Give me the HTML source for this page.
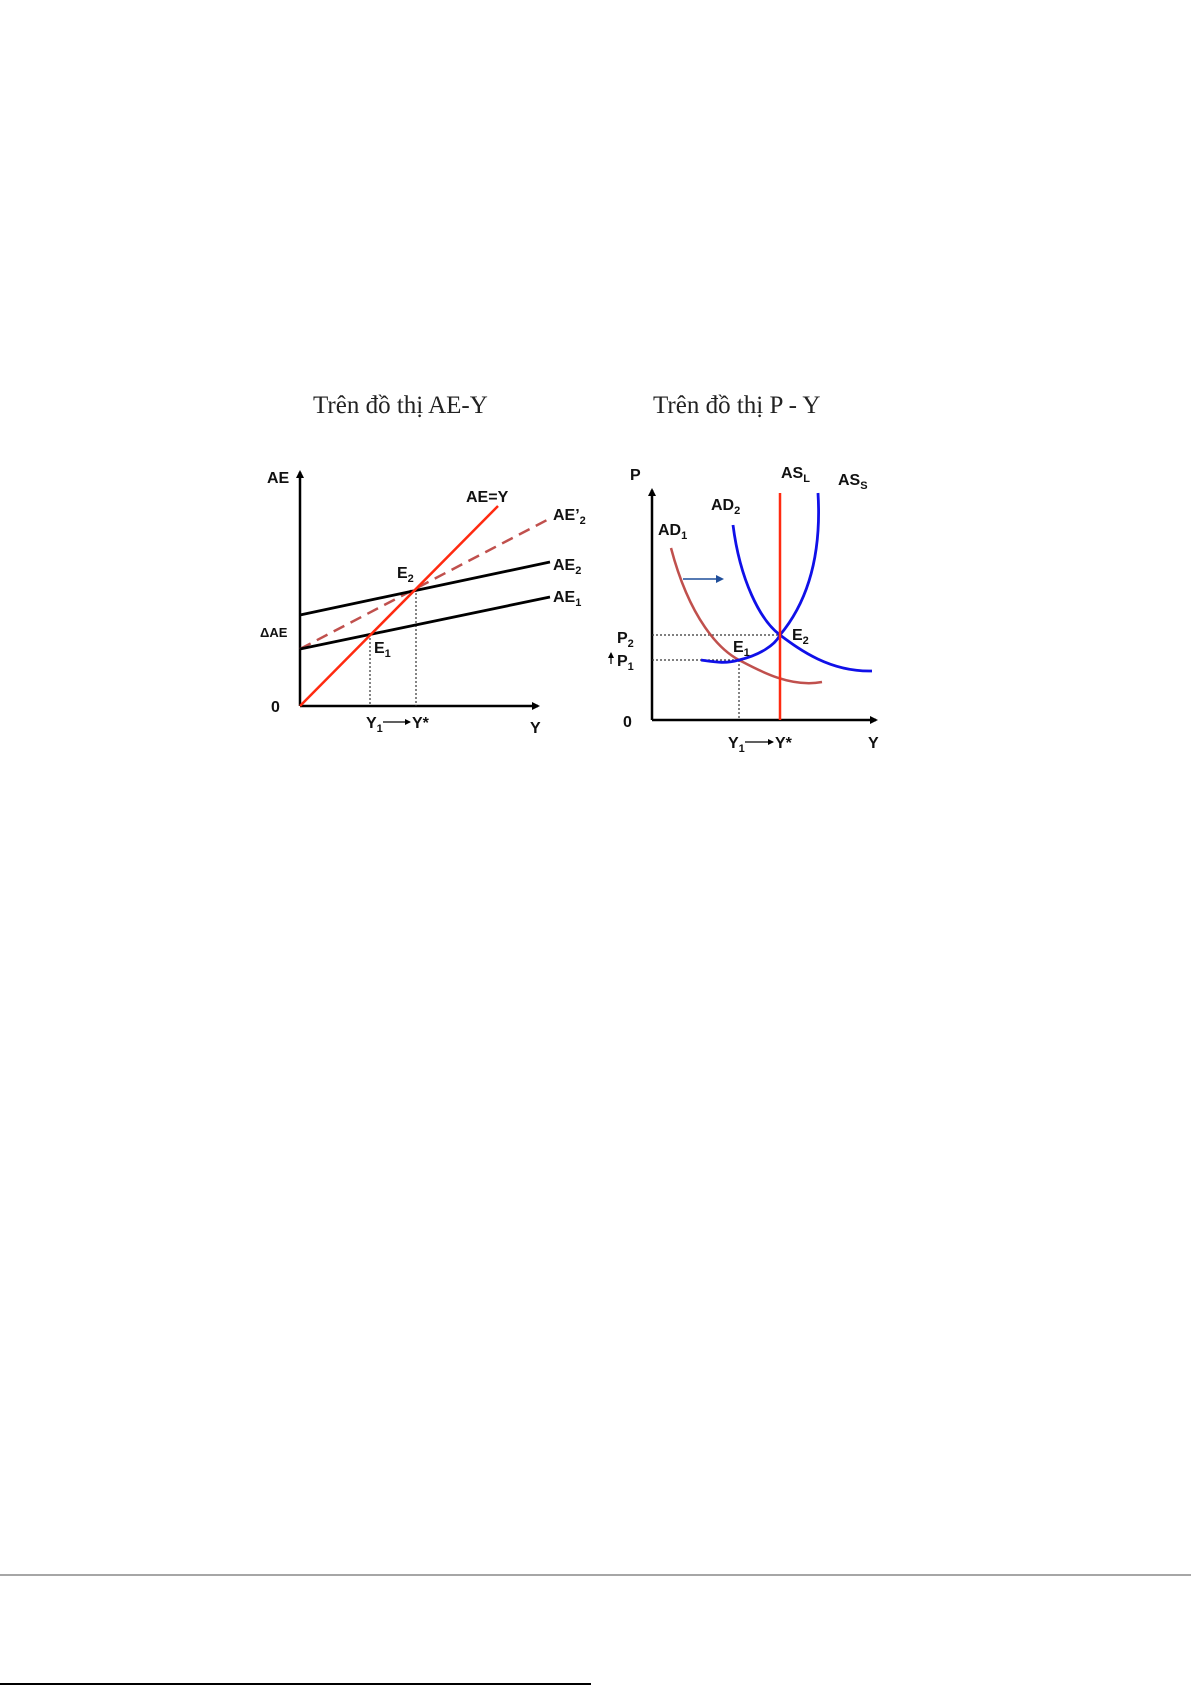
<!DOCTYPE html>
<html><head><meta charset="utf-8"><style>
html,body{margin:0;padding:0;background:#fff;}
svg{display:block;}
.t{font-family:"Liberation Serif",serif;font-size:25px;fill:#222;}
.l{font-family:"Liberation Sans",sans-serif;font-weight:bold;font-size:16px;fill:#111;}
.s{font-size:11px;}
</style></head><body>
<svg width="1191" height="1685" viewBox="0 0 1191 1685" xmlns="http://www.w3.org/2000/svg">
<defs>
<marker id="ah" markerWidth="8" markerHeight="8" refX="6" refY="4" orient="auto" markerUnits="userSpaceOnUse"><path d="M0,0 L8,4 L0,8 z" fill="#000"/></marker>
<marker id="ab" markerWidth="8" markerHeight="8" refX="6" refY="4" orient="auto" markerUnits="userSpaceOnUse"><path d="M0,0 L8,4 L0,8 z" fill="#1f4e9a"/></marker>
<marker id="as" markerWidth="6" markerHeight="6" refX="5" refY="3" orient="auto" markerUnits="userSpaceOnUse"><path d="M0,0 L6,3 L0,6 z" fill="#000"/></marker>
</defs>
<text class="t" x="313" y="413">Trên đồ thị AE-Y</text>
<text class="t" x="653" y="413">Trên đồ thị P - Y</text>

<!-- Left chart -->
<line x1="300" y1="706" x2="300" y2="472" stroke="#000" stroke-width="2.5" marker-end="url(#ah)"/>
<line x1="300" y1="706" x2="538" y2="706" stroke="#000" stroke-width="2.5" marker-end="url(#ah)"/>
<line x1="370" y1="634" x2="370" y2="706" stroke="#333" stroke-width="1.2" stroke-dasharray="2,2"/>
<line x1="416" y1="589" x2="416" y2="706" stroke="#333" stroke-width="1.2" stroke-dasharray="2,2"/>
<line x1="300" y1="649" x2="547" y2="520" stroke="#c0504d" stroke-width="2.5" stroke-dasharray="12,7"/>
<line x1="300" y1="649" x2="550" y2="597" stroke="#000" stroke-width="2.8"/>
<line x1="300" y1="615" x2="550" y2="562" stroke="#000" stroke-width="2.8"/>
<line x1="300" y1="706" x2="498" y2="506" stroke="#ff2a10" stroke-width="2.5"/>
<text class="l" x="267" y="483">AE</text>
<text class="l" x="466" y="502">AE=Y</text>
<text class="l" x="553" y="520">AE’<tspan class="s" dy="4">2</tspan></text>
<text class="l" x="553" y="570">AE<tspan class="s" dy="4">2</tspan></text>
<text class="l" x="553" y="602">AE<tspan class="s" dy="4">1</tspan></text>
<text class="l" x="397" y="578">E<tspan class="s" dy="4">2</tspan></text>
<text class="l" x="374" y="653">E<tspan class="s" dy="4">1</tspan></text>
<text class="l" x="260" y="637" style="font-size:13px">ΔAE</text>
<text class="l" x="271" y="712">0</text>
<text class="l" x="366" y="728">Y<tspan class="s" dy="4">1</tspan></text>
<line x1="383" y1="722" x2="410" y2="722" stroke="#000" stroke-width="1.3" marker-end="url(#as)"/>
<text class="l" x="412" y="728">Y*</text>
<text class="l" x="530" y="733">Y</text>

<!-- Right chart -->
<line x1="652" y1="720" x2="652" y2="490" stroke="#000" stroke-width="2.5" marker-end="url(#ah)"/>
<line x1="652" y1="720" x2="876" y2="720" stroke="#000" stroke-width="2.5" marker-end="url(#ah)"/>
<line x1="652" y1="635" x2="780" y2="635" stroke="#333" stroke-width="1.2" stroke-dasharray="2,2"/>
<line x1="652" y1="660" x2="739" y2="660" stroke="#333" stroke-width="1.2" stroke-dasharray="2,2"/>
<line x1="739" y1="660" x2="739" y2="720" stroke="#333" stroke-width="1.2" stroke-dasharray="2,2"/>
<path d="M671,548 C690,620 720,650 739,660 S790,688 822,682" fill="none" stroke="#c0504d" stroke-width="2.5"/>
<path d="M733,525 C740,580 760,620 780,635 S830,672 872,671" fill="none" stroke="#1010e8" stroke-width="2.8"/>
<path d="M701,660 C715,662 725,664 739,660 C760,655 775,645 780,635 C805,605 822,560 818,493" fill="none" stroke="#1010e8" stroke-width="2.8"/>
<line x1="780" y1="493" x2="780" y2="720" stroke="#ff2a10" stroke-width="2.5"/>
<line x1="683" y1="579" x2="722" y2="579" stroke="#1f4e9a" stroke-width="1.5" marker-end="url(#ab)"/>
<text class="l" x="630" y="480">P</text>
<text class="l" x="781" y="478">AS<tspan class="s" dy="4">L</tspan></text>
<text class="l" x="838" y="485">AS<tspan class="s" dy="4">S</tspan></text>
<text class="l" x="711" y="510">AD<tspan class="s" dy="4">2</tspan></text>
<text class="l" x="658" y="535">AD<tspan class="s" dy="4">1</tspan></text>
<text class="l" x="792" y="640">E<tspan class="s" dy="4">2</tspan></text>
<text class="l" x="733" y="652">E<tspan class="s" dy="4">1</tspan></text>
<text class="l" x="617" y="643">P<tspan class="s" dy="4">2</tspan></text>
<text class="l" x="617" y="666">P<tspan class="s" dy="4">1</tspan></text>
<line x1="611" y1="664" x2="611" y2="653" stroke="#000" stroke-width="1.2" marker-end="url(#as)"/>
<text class="l" x="623" y="727">0</text>
<text class="l" x="728" y="748">Y<tspan class="s" dy="4">1</tspan></text>
<line x1="745" y1="742" x2="773" y2="742" stroke="#000" stroke-width="1.3" marker-end="url(#as)"/>
<text class="l" x="775" y="748">Y*</text>
<text class="l" x="868" y="748">Y</text>

<line x1="0" y1="1575" x2="1191" y2="1575" stroke="#888" stroke-width="1.5"/>
<line x1="0" y1="1684" x2="591" y2="1684" stroke="#000" stroke-width="2"/>
</svg>
</body></html>
